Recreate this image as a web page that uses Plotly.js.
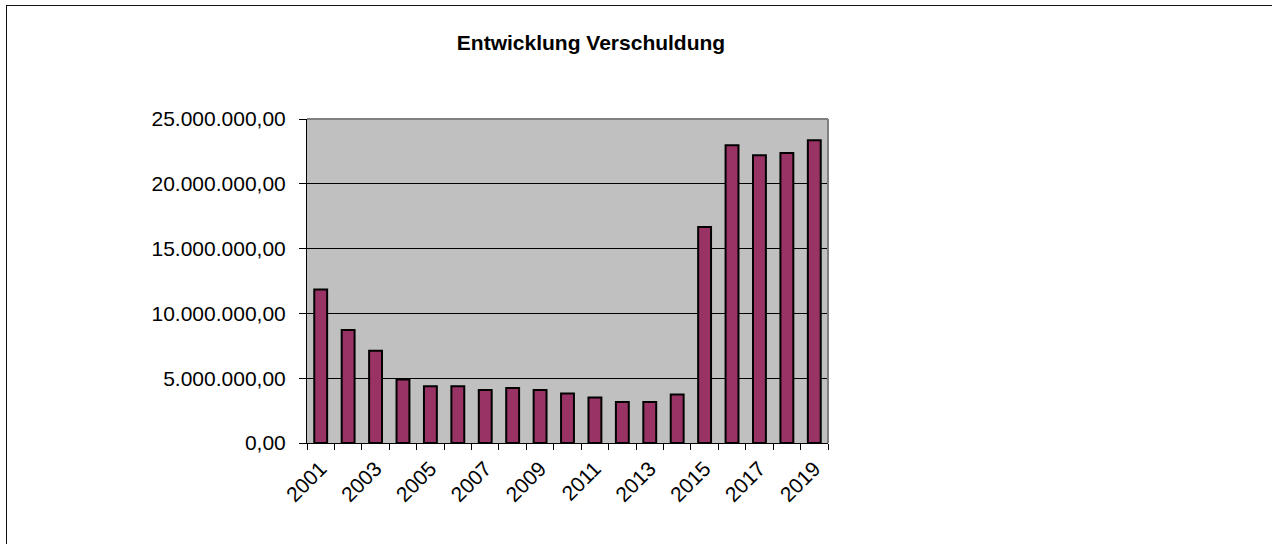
<!DOCTYPE html>
<html>
<head>
<meta charset="utf-8">
<script src="https://cdn.plot.ly/plotly-3.0.1.min.js"></script>
<style>
  html, body { margin: 0; padding: 0; background: #fff; }
  #wrap { position: relative; width: 1272px; height: 544px; overflow: hidden; }
  #frame { position: absolute; left: 6px; top: 5px; width: 1300px; height: 600px;
           border-left: 1px solid #111; border-top: 1px solid #111; box-sizing: border-box; pointer-events: none; }
  #chart { position: absolute; left: 0; top: 0; width: 1272px; height: 544px; }
</style>
</head>
<body>
<div id="wrap">
  <div id="chart"></div>
  <div id="frame"></div>
</div>
<script>
const years = [2001, 2002, 2003, 2004, 2005, 2006, 2007, 2008, 2009, 2010,
               2011, 2012, 2013, 2014, 2015, 2016, 2017, 2018, 2019];
const debt = [11850000, 8720000, 7120000, 4900000, 4380000, 4380000, 4080000, 4250000, 4080000, 3820000,
              3510000, 3170000, 3170000, 3740000, 16660000, 22970000, 22200000, 22380000, 23360000];
const xTickVals = [2001, 2003, 2005, 2007, 2009, 2011, 2013, 2015, 2017, 2019];
const xTickText = ['2001', '2003', '2005', '2007', '2009', '2011', '2013', '2015', '2017', '2019'];
const yTickVals = [0, 5000000, 10000000, 15000000, 20000000, 25000000];
const titleText = 'Entwicklung Verschuldung';

const font = 'Liberation Sans, Arial, sans-serif';

const trace = {
  type: 'bar',
  x: years,
  y: debt,
  width: 0.47,
  marker: { color: '#993366', line: { color: '#000000', width: 2 } },
  hoverinfo: 'x+y'
};

const layout = {
  width: 1272,
  height: 544,
  paper_bgcolor: 'rgba(0,0,0,0)',
  plot_bgcolor: '#c0c0c0',
  margin: { l: 307, r: 444, t: 119, b: 101, pad: 0 },
  separators: ',.',
  showlegend: false,
  title: {
    text: '<b>' + titleText + '</b>',
    font: { family: font, size: 21, color: '#000' },
    xref: 'container', yref: 'container',
    x: 591 / 1272, xanchor: 'center',
    y: 1 - 43 / 544, yanchor: 'middle'
  },
  xaxis: {
    type: 'linear',
    range: [2000.5, 2019.5],
    tickmode: 'array',
    tickvals: xTickVals,
    ticktext: xTickText,
    tickangle: -45,
    ticks: '',
    ticklen: 0,
    showgrid: false,
    zeroline: false,
    showline: true,
    linecolor: '#000',
    linewidth: 1,
    tickfont: { family: font, size: 21, color: '#000' },
    ticklabelstandoff: 4,
    minor: { tickmode: 'linear', tick0: 2000.5, dtick: 1, ticks: 'outside', ticklen: 6, tickcolor: '#000', tickwidth: 1, showgrid: false },
    fixedrange: true
  },
  yaxis: {
    range: [0, 25000000],
    tickmode: 'array',
    tickvals: yTickVals,
    tickformat: ',.2f',
    ticks: 'outside',
    ticklen: 7,
    tickcolor: '#000',
    tickwidth: 1,
    showgrid: true,
    gridcolor: '#000',
    gridwidth: 1,
    zeroline: false,
    showline: true,
    linecolor: '#000',
    linewidth: 1,
    tickfont: { family: font, size: 21, color: '#000' },
    ticklabelstandoff: 9,
    fixedrange: true
  },
  shapes: [
    { type: 'line', xref: 'paper', yref: 'paper', x0: 0, x1: 1, y0: 1, y1: 1, line: { color: '#808080', width: 2 }, layer: 'above' },
    { type: 'line', xref: 'paper', yref: 'paper', x0: 1, x1: 1, y0: 0, y1: 1, line: { color: '#808080', width: 2 }, layer: 'above' }
  ]
};

Plotly.newPlot('chart', [trace], layout, { displayModeBar: false, staticPlot: true });
</script>
</body>
</html>
